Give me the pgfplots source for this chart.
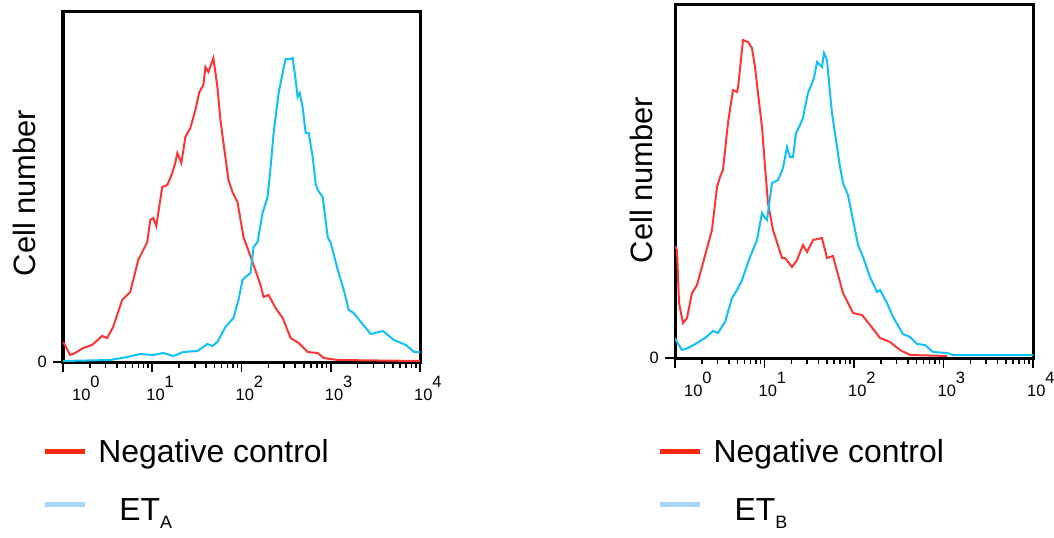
\documentclass[border=0pt]{standalone}
\usepackage{pgfplots}
\pgfplotsset{compat=1.18}
\usepackage{fontspec}
\setmainfont{Liberation Sans}
\definecolor{cred}{RGB}{255,52,52}
\definecolor{cblue}{RGB}{15,194,245}
\definecolor{lred}{RGB}{255,40,10}
\definecolor{lblue}{RGB}{168,214,250}
\newcommand\tl[1]{10\raisebox{13bp}{#1}}
\pgfplotsset{flowstyle/.style={
  scale only axis, xmin=0, xmax=4, ymin=0,
  axis line style={line width=3bp, black},
  xtick={0,1,2,3,4},
  xticklabels={\hspace*{15bp}\tl{0},\tl{1},\tl{2},\tl{3},\tl{4}},
  minor xtick={0.301,0.477,0.602,0.699,0.778,0.845,0.903,0.954,
               1.301,1.477,1.602,1.699,1.778,1.845,1.903,1.954,
               2.301,2.477,2.602,2.699,2.778,2.845,2.903,2.954,
               3.301,3.477,3.602,3.699,3.778,3.845,3.903,3.954},
  ytick={0}, yticklabels={0},
  tick align=outside, xtick pos=bottom, ytick pos=left,
  major tick length=10bp, minor tick length=6bp,
  every tick/.style={black, line width=1.6bp},
  tick label style={font=\fontsize{16.5}{16.5}\selectfont, inner sep=0pt},
  xticklabel style={anchor=base west, xshift=-6bp, yshift=-28bp},
  yticklabel style={xshift=-6bp},
  legend cell align=left,
  legend style={draw=none, fill=none, anchor=north west,
    font=\fontsize{32}{32}\selectfont, row sep=35bp, column sep=11bp,
    inner sep=0pt, outer sep=0pt, nodes={inner sep=0pt}},
  legend image code/.code={\draw[#1] (0bp,0bp) -- (40bp,0bp);},
}}
\begin{document}
\begin{tikzpicture}
\useasboundingbox (0bp,0bp) rectangle (1054bp,-538bp);
\begin{axis}[flowstyle, at={(63bp,-362bp)}, anchor=south west,
  width=357bp, height=351bp, ymax=351,
  legend style={at={(axis description cs:-0.059,-0.220)}}]
\addplot[cred, line width=2bp, forget plot] coordinates {
(0,20)(0.022,17)(0.079,7)(0.135,9)(0.225,14)(0.326,17)(0.438,26)(0.494,24)(0.562,35)(0.663,62)(0.753,70)(0.843,102)(0.944,120)(0.978,142)(1.011,144)(1.045,136)(1.112,175)(1.169,177)(1.225,189)(1.258,199)(1.281,209)(1.326,199)(1.371,225)(1.427,234)(1.483,252)(1.528,270)(1.573,277)(1.596,295)(1.629,290)(1.685,304)(1.730,275)(1.764,242)(1.798,219)(1.854,182)(1.899,170)(1.955,160)(2.022,125)(2.124,100)(2.213,77)(2.247,65)(2.303,67)(2.382,54)(2.461,44)(2.551,24)(2.640,19)(2.742,10)(2.854,9)(2.921,4)(3.079,2)(4.0,1)};
\addplot[cblue, line width=2bp, forget plot] coordinates {
(0,1)(0.528,2)(0.719,5)(0.865,8)(1.011,7)(1.124,9)(1.236,6)(1.348,10)(1.506,11)(1.618,18)(1.674,16)(1.730,20)(1.820,35)(1.910,44)(1.966,62)(2.011,82)(2.045,85)(2.101,89)(2.135,115)(2.180,120)(2.236,149)(2.292,165)(2.326,195)(2.360,229)(2.416,269)(2.461,289)(2.494,303)(2.551,303)(2.573,304)(2.607,282)(2.629,265)(2.652,269)(2.685,255)(2.719,229)(2.753,229)(2.798,205)(2.831,178)(2.854,172)(2.910,165)(2.966,125)(3.000,119)(3.079,92)(3.146,72)(3.202,52)(3.258,49)(3.337,40)(3.449,28)(3.584,31)(3.708,22)(3.843,17)(3.933,10)(4.0,10)};
\addlegendimage{lred, line width=5.5bp}
\addlegendentry{Negative control}
\addlegendimage{lblue, line width=5.5bp, yshift=6bp}
\addlegendentry{\hspace*{21bp}ET\raisebox{-8bp}{\fontsize{18}{18}\selectfont A}}
\end{axis}
\begin{axis}[flowstyle, at={(675bp,-358bp)}, anchor=south west,
  width=358bp, height=354bp, ymax=354,
  legend style={at={(axis description cs:-0.050,-0.230)}}]
\addplot[cred, line width=2bp, forget plot] coordinates {
(0.0,112)(0.022,108)(0.045,55)(0.089,35)(0.134,40)(0.190,65)(0.246,73)(0.313,95)(0.413,128)(0.469,171)(0.503,181)(0.536,188)(0.592,235)(0.648,268)(0.693,266)(0.704,270)(0.760,318)(0.816,316)(0.860,310)(0.894,291)(0.927,265)(0.972,231)(1.006,191)(1.039,155)(1.095,128)(1.196,100)(1.229,100)(1.307,91)(1.363,98)(1.430,113)(1.475,106)(1.542,118)(1.642,120)(1.698,100)(1.765,102)(1.877,65)(1.989,45)(2.089,43)(2.179,33)(2.291,20)(2.402,16)(2.514,8)(2.626,3)(3.039,2)};
\addplot[cblue, line width=2bp, forget plot] coordinates {
(0.0,20)(0.022,16)(0.078,8)(0.145,10)(0.246,15)(0.335,20)(0.425,27)(0.480,25)(0.559,36)(0.637,60)(0.693,68)(0.749,78)(0.838,101)(0.916,118)(0.972,145)(1.006,140)(1.028,138)(1.084,175)(1.151,178)(1.207,190)(1.251,211)(1.285,201)(1.318,201)(1.352,225)(1.397,233)(1.430,240)(1.453,251)(1.486,265)(1.531,275)(1.553,280)(1.587,296)(1.620,293)(1.642,291)(1.665,305)(1.698,298)(1.732,265)(1.754,245)(1.810,211)(1.844,191)(1.877,175)(1.933,163)(1.989,138)(2.045,113)(2.101,101)(2.179,81)(2.257,66)(2.291,68)(2.369,55)(2.436,41)(2.547,24)(2.626,21)(2.704,14)(2.793,13)(2.883,6)(3.039,5)(3.106,3)(4.0,3)};
\addlegendimage{lred, line width=5.5bp}
\addlegendentry{Negative control}
\addlegendimage{lblue, line width=5.5bp, yshift=6bp}
\addlegendentry{\hspace*{21bp}ET\raisebox{-8bp}{\fontsize{18}{18}\selectfont B}}
\end{axis}
\node[rotate=90, anchor=base, font=\fontsize{31}{31}\selectfont] at (35bp,-193bp) {Cell number};
\node[rotate=90, anchor=base, font=\fontsize{31}{31}\selectfont] at (652bp,-180bp) {Cell number};
\end{tikzpicture}
\end{document}
